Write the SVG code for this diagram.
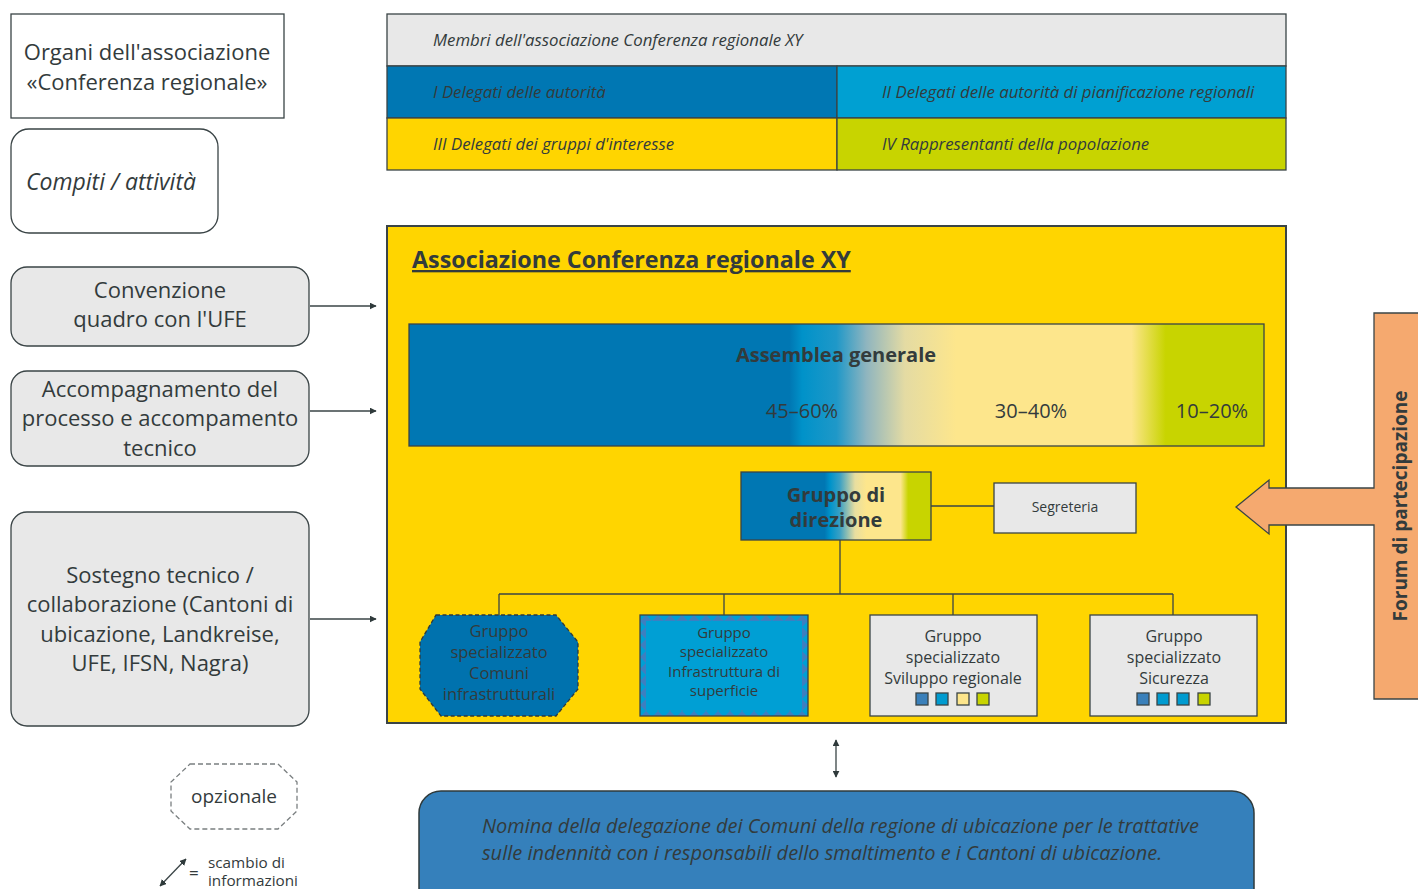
<svg xmlns="http://www.w3.org/2000/svg" width="1418" height="889" viewBox="0 0 1418 889">
<defs>
<style>
text{font-family:"Open Sans","Noto Sans","Liberation Sans",sans-serif;fill:#333b3c}
.lg{font-size:22px}
.it{font-style:italic}
.mem{font-size:16.8px;font-style:italic}
.box{stroke:#3a4446;stroke-width:1.3}
.grey{fill:#e8e8e8}
.con{fill:none;stroke:#3a4446;stroke-width:1.3}
.c{text-anchor:middle}
.grp{font-size:16px}
</style>
<marker id="ah" viewBox="0 0 10 10" refX="9" refY="5" markerWidth="7" markerHeight="7" orient="auto-start-reverse" markerUnits="userSpaceOnUse">
<path d="M0,0 L10,5 L0,10 Z" fill="#2f3a3b"/>
</marker>
<linearGradient id="gAss" x1="0" x2="1" y1="0" y2="0">
<stop offset="0" stop-color="#0077b3"/>
<stop offset="0.445" stop-color="#0077b3"/>
<stop offset="0.46" stop-color="#0092c9"/>
<stop offset="0.5" stop-color="#1f98c8"/>
<stop offset="0.535" stop-color="#8fb5bf"/>
<stop offset="0.58" stop-color="#e4dba3"/>
<stop offset="0.64" stop-color="#fde68c"/>
<stop offset="0.845" stop-color="#fde68c"/>
<stop offset="0.885" stop-color="#c8d400"/>
<stop offset="1" stop-color="#c8d400"/>
</linearGradient>
<linearGradient id="gDir" x1="0" x2="1" y1="0" y2="0">
<stop offset="0" stop-color="#0077b3"/>
<stop offset="0.44" stop-color="#0077b3"/>
<stop offset="0.47" stop-color="#0093ca"/>
<stop offset="0.52" stop-color="#3aa0c4"/>
<stop offset="0.6" stop-color="#e8dea0"/>
<stop offset="0.66" stop-color="#fde68c"/>
<stop offset="0.84" stop-color="#fde68c"/>
<stop offset="0.88" stop-color="#c8d400"/>
<stop offset="1" stop-color="#c8d400"/>
</linearGradient>
<pattern id="dia" width="12" height="12" patternUnits="userSpaceOnUse" x="640" y="615">
<rect width="12" height="12" fill="#009fd4"/>
<path d="M6,0 L12,6 L6,12 L0,6 Z" fill="#3d7fc0"/>
</pattern>
</defs>

<!-- legend -->
<g id="legend-organi">
<rect x="11" y="14" width="273" height="104" fill="#fff" class="box"/>
<text class="lg c" x="147" y="60">Organi dell'associazione</text>
<text class="lg c" x="147" y="90">«Conferenza regionale»</text>
</g>
<g id="legend-compiti">
<rect x="11" y="129" width="207" height="104" rx="18" fill="#fff" class="box"/>
<text class="c it" x="111" y="190" font-size="23">Compiti / attività</text>
</g>
<g id="convenzione">
<rect x="11" y="267" width="298" height="79" rx="16" class="box grey"/>
<text class="lg c" x="160" y="298">Convenzione</text>
<text class="lg c" x="160" y="327">quadro con l'UFE</text>
</g>
<g id="accompagnamento">
<rect x="11" y="371" width="298" height="95" rx="16" class="box grey"/>
<text class="lg c" x="160" y="397">Accompagnamento del</text>
<text class="lg c" x="160" y="426">processo e accompamento</text>
<text class="lg c" x="160" y="456">tecnico</text>
</g>
<g id="sostegno">
<rect x="11" y="512" width="298" height="214" rx="16" class="box grey"/>
<text class="lg c" x="160" y="583">Sostegno tecnico /</text>
<text class="lg c" x="160" y="612">collaborazione (Cantoni di</text>
<text class="lg c" x="160" y="642">ubicazione, Landkreise,</text>
<text class="lg c" x="160" y="671">UFE, IFSN, Nagra)</text>
</g>

<!-- members table -->
<g id="membri">
<rect x="387" y="14" width="899" height="52" class="box grey"/>
<text class="mem" x="433" y="46">Membri dell'associazione Conferenza regionale XY</text>
<rect x="387" y="66" width="450" height="52" fill="#0077b3" class="box"/>
<text class="mem" x="433" y="98">I Delegati delle autorità</text>
<rect x="837" y="66" width="449" height="52" fill="#00a0d2" class="box"/>
<text class="mem" x="882" y="98">II Delegati delle autorità di pianificazione regionali</text>
<rect x="387" y="118" width="450" height="52" fill="#ffd500" class="box"/>
<text class="mem" x="433" y="150">III Delegati dei gruppi d'interesse</text>
<rect x="837" y="118" width="449" height="52" fill="#c8d400" class="box"/>
<text class="mem" x="882" y="150">IV Rappresentanti della popolazione</text>
</g>

<!-- main association -->
<g id="associazione">
<rect x="387" y="226" width="899" height="497" fill="#ffd500" stroke="#3a4446" stroke-width="2"/>
<text x="412" y="268" font-size="23.3" font-weight="bold" text-decoration="underline">Associazione Conferenza regionale XY</text>
</g>

<!-- forum -->
<g id="forum">
<path d="M1422,313 H1374 V488 H1269 V480 L1236,507 L1269,534 V525 H1374 V699 H1422 Z" fill="#f5a96f" stroke="#3a4446" stroke-width="1.3"/>
<text transform="translate(1407,506) rotate(-90)" class="c" font-size="19" font-weight="bold">Forum di partecipazione</text>
</g>

<g id="assemblea">
<rect x="409" y="324" width="855" height="122" fill="url(#gAss)" class="box"/>
<text class="c" x="836" y="362" font-size="20" font-weight="bold">Assemblea generale</text>
<text class="c" x="802" y="418" font-size="20">45–60%</text>
<text class="c" x="1031" y="418" font-size="20">30–40%</text>
<text class="c" x="1212" y="418" font-size="20">10–20%</text>
</g>
<g id="direzione">
<rect x="741" y="472" width="190" height="68" fill="url(#gDir)" class="box"/>
<text class="c" x="836" y="502" font-size="20" font-weight="bold">Gruppo di</text>
<text class="c" x="836" y="527" font-size="20" font-weight="bold">direzione</text>
</g>
<g id="segreteria">
<rect x="994" y="483" width="142" height="50" class="box grey"/>
<text class="c" x="1065" y="512" font-size="14">Segreteria</text>
</g>

<!-- connectors -->
<g id="connectors">
<line x1="310" y1="306" x2="376" y2="306" class="con" marker-end="url(#ah)"/>
<line x1="310" y1="411" x2="376" y2="411" class="con" marker-end="url(#ah)" stroke="#7a8082"/>
<line x1="310" y1="619" x2="376" y2="619" class="con" marker-end="url(#ah)"/>
<line x1="931" y1="506" x2="994" y2="506" class="con"/>
<path d="M840,540 V594 M499,594 H1173 M499,594 V615 M724,594 V615 M953,594 V615 M1173,594 V615" class="con"/>
<line x1="836" y1="740" x2="836" y2="777" class="con" marker-start="url(#ah)" marker-end="url(#ah)"/>
<line x1="160" y1="886" x2="186" y2="859" class="con" marker-start="url(#ah)" marker-end="url(#ah)"/>
</g>

<!-- groups -->
<g id="gruppo-comuni">
<polygon points="436,615 556,615 578,642 578,689 556,716 441,716 420,689 420,642" fill="#0072ae" stroke="#2f3a3b" stroke-width="1.3" stroke-dasharray="4,2.5"/>
<text class="c" x="499" y="637" font-size="16.5">Gruppo</text>
<text class="c" x="499" y="658" font-size="16.5">specializzato</text>
<text class="c" x="499" y="679" font-size="16.5">Comuni</text>
<text class="c" x="499" y="700" font-size="16.5">infrastrutturali</text>
</g>
<g id="gruppo-infrastruttura">
<rect x="640" y="615" width="168" height="101" fill="url(#dia)" class="box"/>
<rect x="646" y="621" width="156" height="89" fill="#009fd4"/>
<text class="c" x="724" y="638" font-size="15">Gruppo</text>
<text class="c" x="724" y="657" font-size="15">specializzato</text>
<text class="c" x="724" y="677" font-size="15">Infrastruttura di</text>
<text class="c" x="724" y="696" font-size="15">superficie</text>
</g>
<g id="gruppo-sviluppo">
<rect x="870" y="615" width="167" height="101" class="box grey"/>
<text class="c grp" x="953" y="642">Gruppo</text>
<text class="c grp" x="953" y="663">specializzato</text>
<text class="c grp" x="953" y="684">Sviluppo regionale</text>
<rect x="916" y="693" width="12" height="12" fill="#3a80ba" class="box"/>
<rect x="936" y="693" width="12" height="12" fill="#009bd0" class="box"/>
<rect x="957" y="693" width="12" height="12" fill="#fde68c" class="box"/>
<rect x="977" y="693" width="12" height="12" fill="#c8d400" class="box"/>
</g>
<g id="gruppo-sicurezza">
<rect x="1090" y="615" width="167" height="101" class="box grey"/>
<text class="c grp" x="1174" y="642">Gruppo</text>
<text class="c grp" x="1174" y="663">specializzato</text>
<text class="c grp" x="1174" y="684">Sicurezza</text>
<rect x="1137" y="693" width="12" height="12" fill="#3a80ba" class="box"/>
<rect x="1157" y="693" width="12" height="12" fill="#009bd0" class="box"/>
<rect x="1177" y="693" width="12" height="12" fill="#009bd0" class="box"/>
<rect x="1198" y="693" width="12" height="12" fill="#c8d400" class="box"/>
</g>

<!-- bottom -->
<g id="nomina">
<rect x="419" y="791" width="835" height="130" rx="22" fill="#3580bb" stroke="#2f3a3b" stroke-width="1.5"/>
<text x="482" y="833" font-size="20" class="it">Nomina della delegazione dei Comuni della regione di ubicazione per le trattative</text>
<text x="482" y="860" font-size="20" class="it">sulle indennità con i responsabili dello smaltimento e i Cantoni di ubicazione.</text>
</g>

<g id="legend-opzionale">
<polygon points="190,764 278,764 297,782 297,811 278,829 190,829 171,811 171,782" fill="#fff" stroke="#7a7f80" stroke-width="1.3" stroke-dasharray="5,3"/>
<text class="c" x="234" y="803" font-size="19">opzionale</text>
</g>
<g id="legend-scambio">
<text x="189" y="879" font-size="17">=</text>
<text x="208" y="868" font-size="15.3">scambio di</text>
<text x="208" y="886" font-size="15.3">informazioni</text>
</g>
</svg>
